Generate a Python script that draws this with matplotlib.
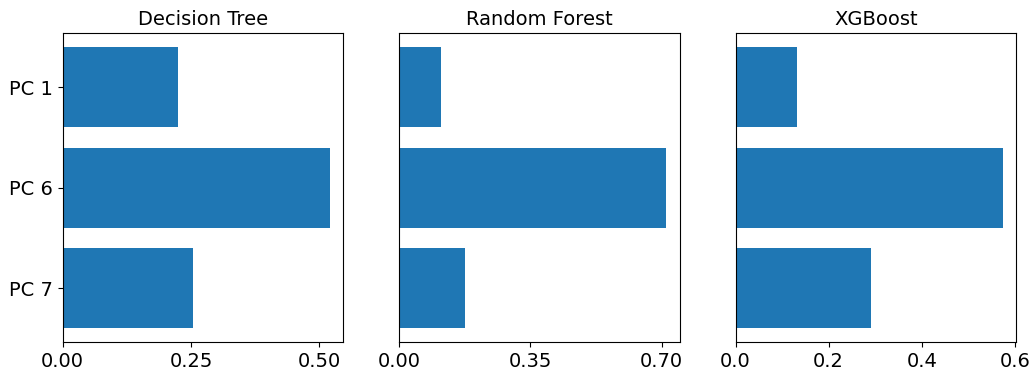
import matplotlib
matplotlib.use('Agg')
import matplotlib.pyplot as plt
import numpy as np

features = ['PC 1', 'PC 6', 'PC 7']
models = ['Decision Tree', 'Random Forest', 'XGBoost']
dt_imp = [0.224, 0.520, 0.253]
rf_imp = [0.111, 0.712, 0.175]
xgb_imp = [0.131, 0.574, 0.290]
importances = [dt_imp, rf_imp, xgb_imp]
xticks = [[0.0, 0.25, 0.50], [0.0, 0.35, 0.70], [0.0, 0.2, 0.4, 0.6]]
xticklabels = [['0.00', '0.25', '0.50'], ['0.00', '0.35', '0.70'], ['0.0', '0.2', '0.4', '0.6']]

fig, axes = plt.subplots(1, 3, figsize=(10.3, 3.76), dpi=100)
fig.subplots_adjust(left=0.0609, right=0.9864, top=0.912, bottom=0.0896, wspace=0.2)

y = np.arange(len(features))
for i, ax in enumerate(axes):
    ax.barh(y, importances[i], height=0.8, color='#1f77b4')
    ax.invert_yaxis()
    ax.set_title(models[i], fontsize=14)
    ax.set_xticks(xticks[i])
    ax.set_xticklabels(xticklabels[i])
    ax.tick_params(labelsize=14)
    if i == 0:
        ax.set_yticks(y)
        ax.set_yticklabels(features)
    else:
        ax.set_yticks([])

plt.savefig('out.png')
